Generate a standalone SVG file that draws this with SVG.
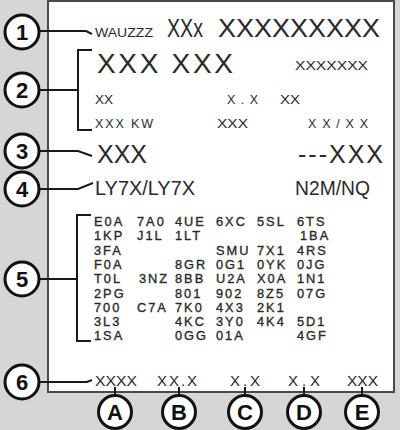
<svg xmlns="http://www.w3.org/2000/svg" width="400" height="430" viewBox="0 0 400 430">
<style>
  .bg { fill: #d6d6d6; }
  .panel { fill: #ffffff; stroke: #4a4a4a; stroke-width: 2; }
  .co circle { fill: #ffffff; stroke: #111111; stroke-width: 3; }
  .co text { font-family: "Liberation Sans", Arial, sans-serif; font-weight: bold; font-size: 22px; fill: #111111; text-anchor: middle; }
  .ln { fill: none; stroke: #1a1a1a; stroke-width: 2; }
  .t { font-family: "Liberation Sans", Arial, sans-serif; fill: #2a2a2a; }
  .big { font-size: 26px; }
  .mid { font-size: 21px; }
  .sm { font-size: 12.5px; }
  .bot { font-size: 15px; }
  .code { font-family: "Liberation Sans", Arial, sans-serif; font-size: 12.8px; fill: #2a2a2a; letter-spacing: 2px; stroke: #2a2a2a; stroke-width: 0.35px; }
</style>
<rect class="bg" x="0" y="0" width="400" height="430"/>
<rect class="panel" x="48" y="1" width="346" height="391"/>

<g id="connectors">
  <path class="ln" d="M40,31 L86,31 L92,34"/>
  <path class="ln" d="M40,90 L78,90 M92,50 L78,50 L78,130 L92,130"/>
  <path class="ln" d="M40,151 L78,151 L92,156"/>
  <path class="ln" d="M40,189 L78,189 L93,183"/>
  <path class="ln" d="M40,279 L77,279 M91,215 L77,215 L77,341 L91,341"/>
  <path class="ln" d="M40,382 L87,382 L92,380"/>
  <path class="ln" d="M115,387 L115,395 M179,387 L179,395 M245,387 L245,395 M304,387 L304,395 M362,387 L362,395"/>
</g>

<g id="row-1">
  <text class="t sm" x="95" y="37" textLength="58" lengthAdjust="spacingAndGlyphs">WAUZZZ</text>
  <text class="t big" x="167" y="37" textLength="36" lengthAdjust="spacingAndGlyphs">XXx</text>
  <text class="t big" x="218" y="37" textLength="162" lengthAdjust="spacingAndGlyphs">XXXXXXXXX</text>
</g>
<g id="row-2">
  <text class="t" x="97" y="73" font-size="28" textLength="136" lengthAdjust="spacing">XXX XXX</text>
  <text class="t sm" x="295" y="70" textLength="73" lengthAdjust="spacingAndGlyphs">XXXXXXX</text>
  <text class="t sm" x="95" y="104" textLength="18" lengthAdjust="spacingAndGlyphs">XX</text>
  <text class="t sm" x="227" y="104" textLength="31" lengthAdjust="spacing">X.X</text>
  <text class="t sm" x="280" y="104" textLength="20" lengthAdjust="spacingAndGlyphs">XX</text>
  <text class="t sm" x="95" y="128" textLength="58" lengthAdjust="spacing">XXX KW</text>
  <text class="t sm" x="217" y="128" textLength="31" lengthAdjust="spacingAndGlyphs">XXX</text>
  <text class="t sm" x="308" y="128" textLength="60" lengthAdjust="spacing">XX/XX</text>
</g>
<g id="row-3">
  <text class="t" x="97" y="163" font-size="25" textLength="50" lengthAdjust="spacing">XXX</text>
  <text class="t" x="298" y="163" font-size="25" textLength="85" lengthAdjust="spacing">---XXX</text>
</g>
<g id="row-4">
  <text class="t mid" x="95" y="195" textLength="100" lengthAdjust="spacingAndGlyphs">LY7X/LY7X</text>
  <text class="t mid" x="295" y="195" textLength="75" lengthAdjust="spacingAndGlyphs">N2M/NQ</text>
</g>
<g id="row-5">
  <text class="code" y="226"><tspan x="94">E0A</tspan><tspan x="137">7A0</tspan><tspan x="175">4UE</tspan><tspan x="216">6XC</tspan><tspan x="257">5SL</tspan><tspan x="297">6TS</tspan></text>
  <text class="code" y="240.3"><tspan x="94">1KP</tspan><tspan x="137">J1L</tspan><tspan x="175">1LT</tspan><tspan x="300">1BA</tspan></text>
  <text class="code" y="254.6"><tspan x="94">3FA</tspan><tspan x="216">SMU</tspan><tspan x="257">7X1</tspan><tspan x="297">4RS</tspan></text>
  <text class="code" y="268.9"><tspan x="94">F0A</tspan><tspan x="175">8GR</tspan><tspan x="216">0G1</tspan><tspan x="257">0YK</tspan><tspan x="297">0JG</tspan></text>
  <text class="code" y="283.2"><tspan x="94">T0L</tspan><tspan x="139">3NZ</tspan><tspan x="175">8BB</tspan><tspan x="216">U2A</tspan><tspan x="257">X0A</tspan><tspan x="297">1N1</tspan></text>
  <text class="code" y="297.5"><tspan x="94">2PG</tspan><tspan x="175">801</tspan><tspan x="216">902</tspan><tspan x="257">8Z5</tspan><tspan x="297">07G</tspan></text>
  <text class="code" y="311.8"><tspan x="94">700</tspan><tspan x="137">C7A</tspan><tspan x="175">7K0</tspan><tspan x="216">4X3</tspan><tspan x="257">2K1</tspan></text>
  <text class="code" y="326.1"><tspan x="94">3L3</tspan><tspan x="175">4KC</tspan><tspan x="216">3Y0</tspan><tspan x="257">4K4</tspan><tspan x="297">5D1</tspan></text>
  <text class="code" y="340.4"><tspan x="94">1SA</tspan><tspan x="175">0GG</tspan><tspan x="216">01A</tspan><tspan x="297">4GF</tspan></text>
</g>
<g id="row-6">
  <text class="t bot" x="95" y="386" textLength="42" lengthAdjust="spacingAndGlyphs">XXXX</text>
  <text class="t bot" x="157" y="386" textLength="40" lengthAdjust="spacing">XX.X</text>
  <text class="t bot" x="230" y="386" textLength="30" lengthAdjust="spacing">X.X</text>
  <text class="t bot" x="288" y="386" textLength="32" lengthAdjust="spacing">X.X</text>
  <text class="t bot" x="347" y="386" textLength="31" lengthAdjust="spacingAndGlyphs">XXX</text>
</g>

<g id="callout-1" class="co"><circle cx="22" cy="32" r="17"/><text x="22" y="40">1</text></g>
<g id="callout-2" class="co"><circle cx="22" cy="90" r="17"/><text x="22" y="98">2</text></g>
<g id="callout-3" class="co"><circle cx="22" cy="151" r="17"/><text x="22" y="159">3</text></g>
<g id="callout-4" class="co"><circle cx="22" cy="189" r="17"/><text x="22" y="197">4</text></g>
<g id="callout-5" class="co"><circle cx="22" cy="279" r="17"/><text x="22" y="287">5</text></g>
<g id="callout-6" class="co"><circle cx="22" cy="382" r="17"/><text x="22" y="390">6</text></g>
<g id="callout-A" class="co"><circle cx="115" cy="412" r="16.5"/><text x="115" y="420">A</text></g>
<g id="callout-B" class="co"><circle cx="179" cy="412" r="16.5"/><text x="179" y="420">B</text></g>
<g id="callout-C" class="co"><circle cx="245" cy="412" r="16.5"/><text x="245" y="420">C</text></g>
<g id="callout-D" class="co"><circle cx="304" cy="412" r="16.5"/><text x="304" y="420">D</text></g>
<g id="callout-E" class="co"><circle cx="362" cy="412" r="16.5"/><text x="362" y="420">E</text></g>
</svg>
